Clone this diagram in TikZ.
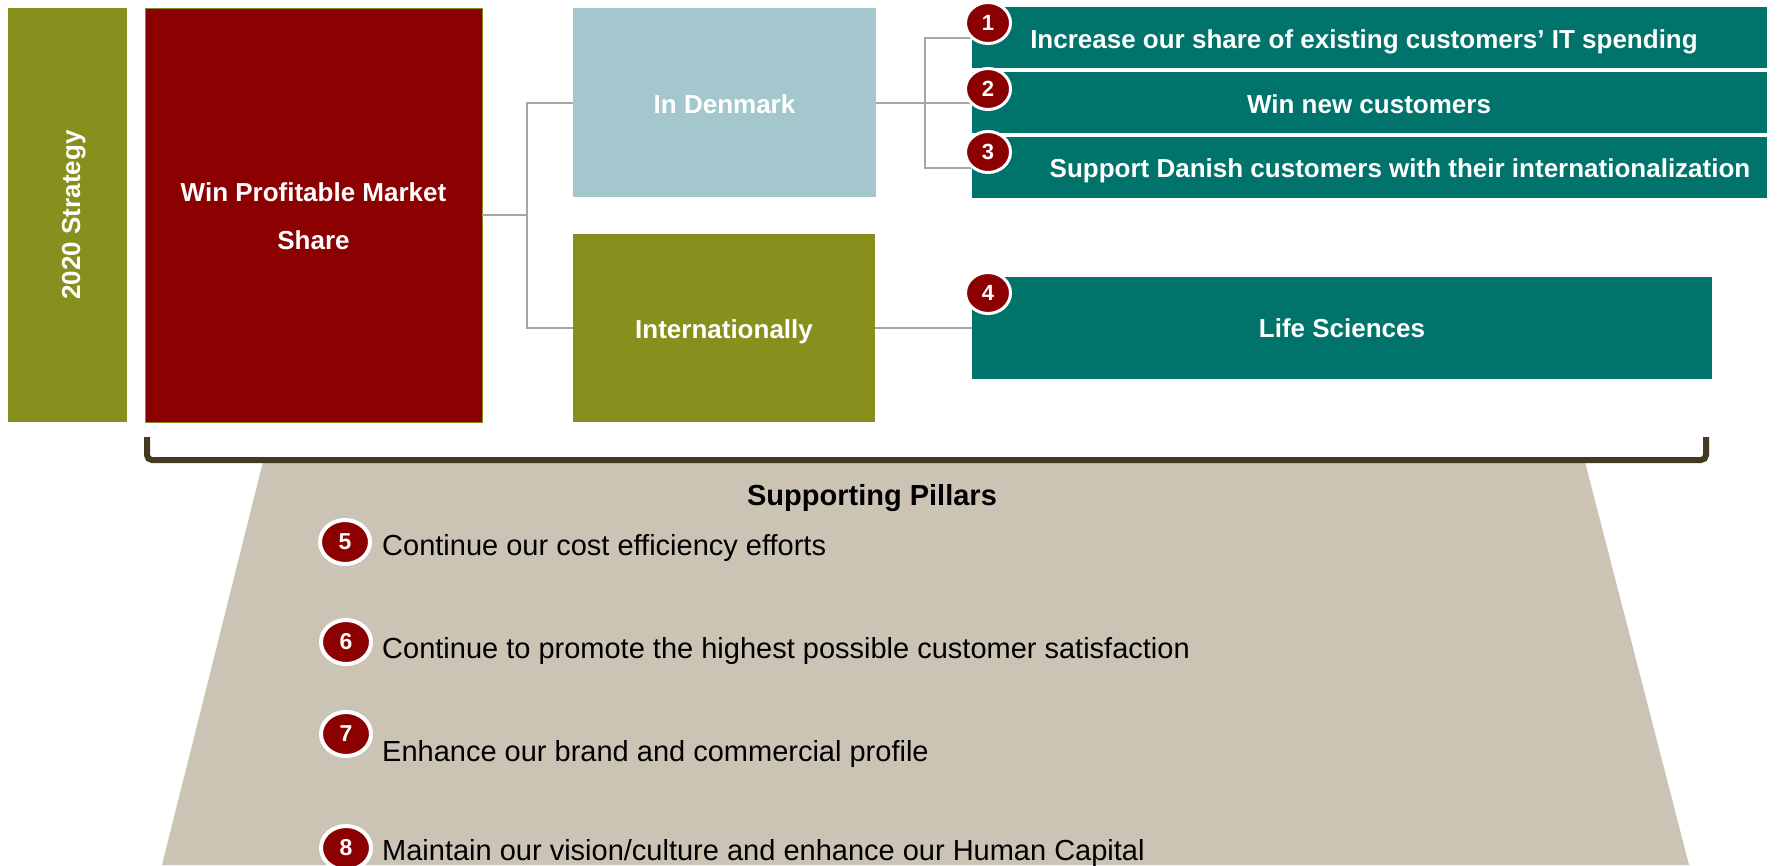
\documentclass[tikz,border=0pt]{standalone}
\usepackage{fontspec}
\setmainfont{Liberation Sans}
\usetikzlibrary{shapes.geometric}
\definecolor{cOlive}{HTML}{878F1D}
\definecolor{cRed}{HTML}{8B0000}
\definecolor{cBlue}{HTML}{A3C7CC}
\definecolor{cTeal}{HTML}{00746B}
\definecolor{cBeige}{HTML}{CBC3B4}
\definecolor{cBrace}{HTML}{443A1F}
\definecolor{cGrey}{HTML}{A6A6A6}
\begin{document}
\begin{tikzpicture}[x=1pt,y=-1pt,
  boxst/.style={rectangle,inner sep=0pt,outer sep=0pt},
  boxtext/.style={font=\fontsize{26}{31}\selectfont\bfseries,text=white,inner sep=0pt},
  conn/.style={draw=cGrey,line width=2pt},
  numc/.style={ellipse,fill=cRed,draw=white,line width=3pt,minimum width=45pt,minimum height=41pt,inner sep=0pt,text=white,font=\fontsize{22}{24}\selectfont\bfseries},
  pnumc/.style={ellipse,fill=cRed,draw=white,line width=4pt,minimum width=50pt,minimum height=44pt,inner sep=0pt,text=white,font=\fontsize{23}{25}\selectfont\bfseries},
  pillar/.style={font=\fontsize{29}{34}\selectfont,text=black,inner sep=0pt,anchor=base west}]
\useasboundingbox (0,0) rectangle (1777,865);
\fill[white] (0,0) rectangle (1777,865);

% trapezoid
\fill[cBeige] (263,462) -- (1585,462) -- (1689,865) -- (162,865) -- cycle;
% brace
\draw[cBrace,line width=6pt,rounded corners=5pt] (147,437) -- (147,460) -- (1706,460) -- (1706,437);

% boxes
\node[boxst,fill=cOlive,minimum width=119pt,minimum height=414pt] (strat) at (67.5,215) {};
\node[boxst,fill=cRed,draw=cOlive,line width=1pt,minimum width=337pt,minimum height=414pt] (red) at (313.5,215) {};
\node[boxst,fill=cBlue,minimum width=303pt,minimum height=189pt] (dk) at (724.5,102.5) {};
\node[boxst,fill=cOlive,minimum width=302pt,minimum height=188pt] (intl) at (724,328) {};
\node[boxst,fill=cTeal,minimum width=795pt,minimum height=61pt] (t1) at (1369.5,37.5) {};
\node[boxst,fill=cTeal,minimum width=795pt,minimum height=61pt] (t2) at (1369.5,102.5) {};
\node[boxst,fill=cTeal,minimum width=795pt,minimum height=61pt] (t3) at (1369.5,167.5) {};
\node[boxst,fill=cTeal,minimum width=740pt,minimum height=102pt] (t4) at (1342,328) {};

% connectors
\draw[conn] (red.east) -- ++(45,0) coordinate (j1) |- (dk.west);
\draw[conn] (j1) |- (intl.west);
\draw[conn] (dk.east) -- ++(49,0) coordinate (j2) |- (t1.west);
\draw[conn] (j2) -- (t2.west);
\draw[conn] (j2) |- (t3.west);
\draw[conn] (intl.east) -- (t4.west);

% box texts
\node[boxtext,rotate=90,anchor=base] (strattxt) at (80,215) {2020 Strategy};
\node[boxtext,anchor=base] (redtxt1) at (313.5,201) {Win Profitable Market};
\node[boxtext,anchor=base] (redtxt2) at (313.5,249) {Share};
\node[boxtext,anchor=base] (dktxt) at (724.5,113) {In Denmark};
\node[boxtext,anchor=base] (intltxt) at (724,338) {Internationally};
\node[boxtext,anchor=base] (t1txt) at (1364,48) {Increase our share of existing customers’ IT spending};
\node[boxtext,anchor=base] (t2txt) at (1369,113) {Win new customers};
\node[boxtext,anchor=base] (t3txt) at (1400,177) {Support Danish customers with their internationalization};
\node[boxtext,anchor=base] (t4txt) at (1342,337) {Life Sciences};

% number circles
\node[numc] (c1) at (988,23) {1};
\node[numc] (c2) at (988,89) {2};
\node[numc] (c3) at (988,152) {3};
\node[numc] (c4) at (988,293) {4};

% supporting pillars
\node[font=\fontsize{29}{34}\selectfont\bfseries,inner sep=0pt,anchor=base] (sp) at (872,505) {Supporting Pillars};
\node[pnumc] (c5) at (345,542) {5};
\node[pnumc] (c6) at (346,642) {6};
\node[pnumc] (c7) at (346,734) {7};
\node[pnumc] (c8) at (346,848) {8};
\node[pillar] (p5) at (382,555) {Continue our cost efficiency efforts};
\node[pillar] (p6) at (382,658) {Continue to promote the highest possible customer satisfaction};
\node[pillar] (p7) at (382,761) {Enhance our brand and commercial profile};
\node[pillar] (p8) at (382,860) {Maintain our vision/culture and enhance our Human Capital};
\end{tikzpicture}
\end{document}
